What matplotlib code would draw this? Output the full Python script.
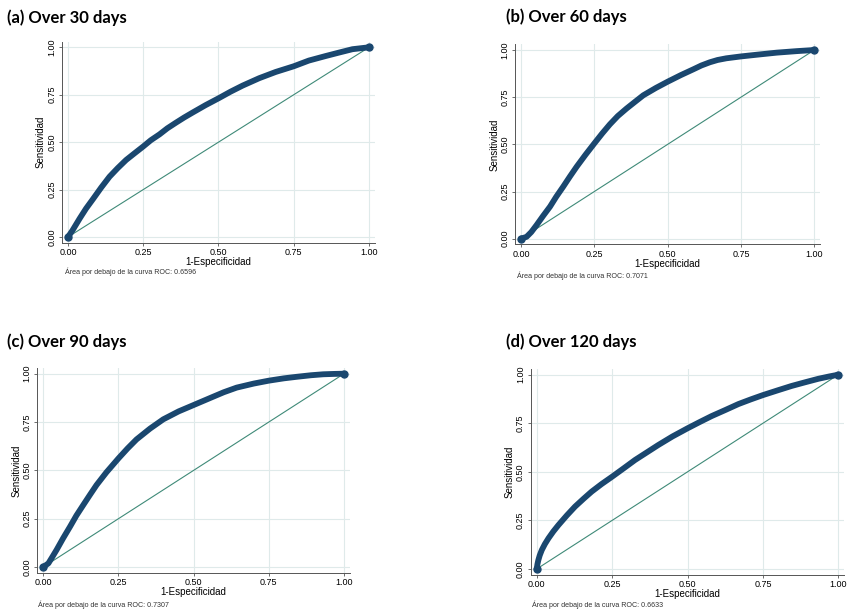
import matplotlib
matplotlib.use('Agg')
import matplotlib.pyplot as plt

# ROC curves: (1-specificity, sensitivity)
fpr_30 = [0, 0.015, 0.039, 0.06, 0.083, 0.11, 0.138, 0.165, 0.193, 0.22,
          0.249, 0.275, 0.304, 0.33, 0.359, 0.386, 0.414, 0.457, 0.5, 0.54,
          0.58, 0.635, 0.69, 0.75, 0.80, 0.856, 0.90, 0.945, 1.0]
tpr_30 = [0, 0.035, 0.098, 0.15, 0.20, 0.26, 0.318, 0.363, 0.406, 0.44,
          0.476, 0.51, 0.541, 0.573, 0.603, 0.63, 0.656, 0.695, 0.731, 0.766,
          0.798, 0.837, 0.87, 0.90, 0.93, 0.954, 0.972, 0.99, 1.0]

fpr_60 = [0, 0.019, 0.035, 0.053, 0.075, 0.099, 0.12, 0.144, 0.167, 0.19,
          0.22, 0.25, 0.277, 0.303, 0.33, 0.36, 0.39, 0.417, 0.46, 0.5,
          0.545, 0.588, 0.615, 0.644, 0.67, 0.70, 0.75, 0.81, 0.872, 0.94, 1.0]
tpr_60 = [0, 0.01, 0.035, 0.072, 0.12, 0.17, 0.222, 0.276, 0.33, 0.382,
          0.445, 0.505, 0.558, 0.606, 0.65, 0.69, 0.727, 0.76, 0.799, 0.832,
          0.867, 0.898, 0.918, 0.935, 0.947, 0.956, 0.966, 0.976, 0.986, 0.994, 1.0]

fpr_90 = [0, 0.017, 0.03, 0.044, 0.066, 0.089, 0.11, 0.133, 0.155, 0.177,
          0.21, 0.25, 0.28, 0.31, 0.355, 0.399, 0.45, 0.5, 0.565, 0.60,
          0.643, 0.70, 0.75, 0.80, 0.843, 0.89, 0.931, 0.97, 1.0]
tpr_90 = [0, 0.019, 0.052, 0.088, 0.149, 0.209, 0.266, 0.321, 0.373, 0.424,
          0.49, 0.562, 0.613, 0.66, 0.716, 0.764, 0.805, 0.838, 0.881, 0.904,
          0.928, 0.949, 0.964, 0.976, 0.984, 0.992, 0.997, 0.999, 1.0]

fpr_120 = [0, 0.0025, 0.0055, 0.01, 0.017, 0.027, 0.039, 0.055, 0.072, 0.1,
           0.127, 0.155, 0.182, 0.215, 0.25, 0.29, 0.326, 0.365, 0.403, 0.45,
           0.5, 0.54, 0.58, 0.625, 0.669, 0.71, 0.75, 0.80, 0.845, 0.89, 0.934, 0.97, 1.0]
tpr_120 = [0, 0.025, 0.046, 0.07, 0.098, 0.128, 0.158, 0.193, 0.226, 0.276,
           0.321, 0.361, 0.398, 0.437, 0.475, 0.52, 0.561, 0.60, 0.638, 0.682,
           0.724, 0.756, 0.787, 0.818, 0.849, 0.873, 0.895, 0.92, 0.942, 0.961, 0.979, 0.991, 1.0]

titles = ['(a) Over 30 days', '(b) Over 60 days', '(c) Over 90 days', '(d) Over 120 days']
auc = ['0.6596', '0.7071', '0.7307', '0.6633']
ticks = [0, 0.25, 0.5, 0.75, 1.0]
tick_labels = ['0.00', '0.25', '0.50', '0.75', '1.00']

curves = [(fpr_30, tpr_30), (fpr_60, tpr_60), (fpr_90, tpr_90), (fpr_120, tpr_120)]

W, H = 848, 612
# pixel positions of data 0 and 1 on each panel: x0, x1, y1 (top), y0 (bottom)
frames = [(68, 369, 47.3, 237), (521, 814.3, 50, 238.7),
          (43.3, 344, 373.7, 567), (536.7, 838.3, 374.7, 569)]
title_pos = [(7, 18), (506, 17), (7, 342), (506, 342)]
note_pos = [(65, 272), (517, 276), (38, 605), (532, 605)]

XLO, XHI = -0.02, 1.02
YLO, YHI = -0.03, 1.03

navy = '#1a476f'
diag = '#3f8a78'
grid = '#dfeaea'

fig = plt.figure(figsize=(W / 100, H / 100), dpi=100)
fig.patch.set_facecolor('white')

for i in range(4):
    x0, x1, y1, y0 = frames[i]
    ux = x1 - x0
    uy = y0 - y1
    left = x0 + XLO * ux
    right = x0 + XHI * ux
    top = y0 - YHI * uy
    bottom = y0 - YLO * uy
    ax = fig.add_axes([left / W, 1 - bottom / H, (right - left) / W, (bottom - top) / H])

    ax.set_xlim(XLO, XHI)
    ax.set_ylim(YLO, YHI)
    ax.set_xticks(ticks)
    ax.set_xticklabels(tick_labels, fontsize=6.5, family='Liberation Sans')
    ax.set_yticks(ticks)
    ax.set_yticklabels(tick_labels, fontsize=6.5, family='Liberation Sans',
                       rotation=90, va='center')
    ax.grid(True, color=grid, linewidth=0.8)
    ax.set_axisbelow(True)
    for s in ['top', 'right']:
        ax.spines[s].set_visible(False)
    for s in ['left', 'bottom']:
        ax.spines[s].set_color('#555555')
        ax.spines[s].set_linewidth(0.7)
    ax.tick_params(length=2.5, width=0.6, color='#555555', pad=1.5)

    ax.plot([0, 1], [0, 1], color=diag, linewidth=0.8, zorder=2)
    fx, ty = curves[i]
    ax.plot(fx, ty, color=navy, linewidth=4.2, solid_capstyle='round',
            solid_joinstyle='round', zorder=3)
    ax.plot([fx[0], fx[-1]], [ty[0], ty[-1]], 'o', color=navy, markersize=5, zorder=4)

    ax.set_xlabel('1-Especificidad', fontsize=7, family='Liberation Sans', labelpad=0)
    ax.set_ylabel('Sensitividad', fontsize=7, family='Liberation Sans', labelpad=1)

    nx, ny = note_pos[i]
    fig.text(nx / W, 1 - ny / H, 'Área por debajo de la curva ROC: ' + auc[i],
             fontsize=5.1, family='Liberation Sans', color='#333333',
             ha='left', va='center')

    tx, tyy = title_pos[i]
    fig.text(tx / W, 1 - tyy / H, titles[i], fontsize=12, fontweight='bold',
             family='Lato', ha='left', va='center')

fig.savefig('out.png', dpi=100)
